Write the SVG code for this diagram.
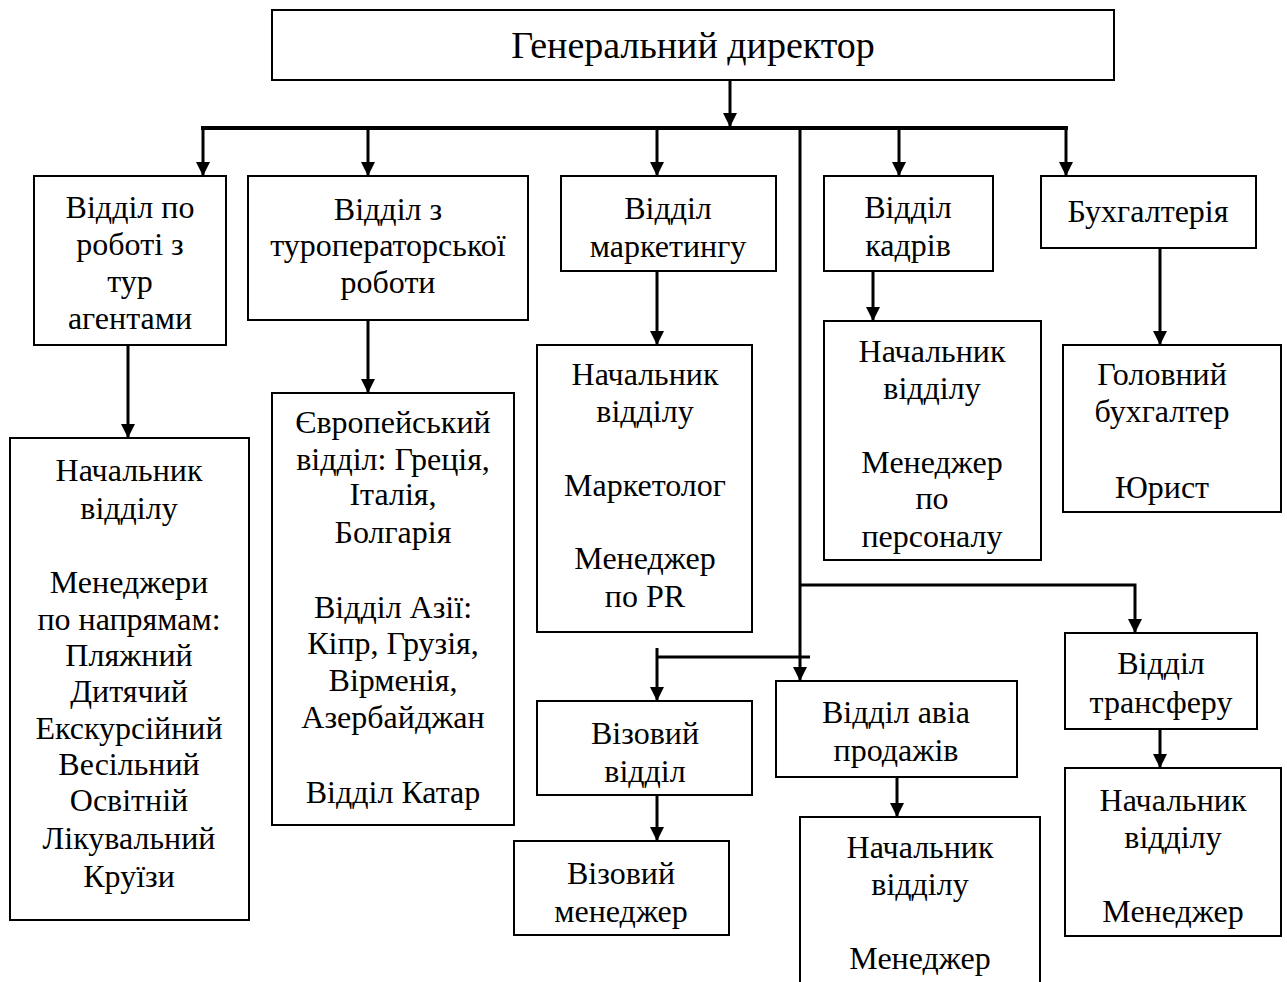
<svg xmlns="http://www.w3.org/2000/svg" width="1287" height="982" viewBox="0 0 1287 982">
<defs>
<style>
.box{fill:#fff;stroke:#000;stroke-width:2}
.t{font-family:"Liberation Serif","Times New Roman",serif;font-size:32px;fill:#000;text-anchor:middle}
.big{font-size:38px}
.c{stroke:#000;stroke-width:3;fill:none}
.bus{stroke:#000;stroke-width:4;fill:none}
</style>
<marker id="ah" viewBox="0 0 10 10" refX="10" refY="5" markerWidth="16" markerHeight="14" markerUnits="userSpaceOnUse" orient="auto">
<path d="M0,0 L10,5 L0,10 z" fill="#000"/>
</marker>
</defs>
<rect width="1287" height="982" fill="#fff"/>
<g id="connectors">
<line class="c" x1="730" y1="80" x2="730" y2="127" marker-end="url(#ah)"/>
<line class="bus" x1="201" y1="128" x2="1068" y2="128"/>
<line class="c" x1="203" y1="128" x2="203" y2="176" marker-end="url(#ah)"/>
<line class="c" x1="368" y1="128" x2="368" y2="176" marker-end="url(#ah)"/>
<line class="c" x1="657" y1="128" x2="657" y2="176" marker-end="url(#ah)"/>
<line class="c" x1="899" y1="128" x2="899" y2="176" marker-end="url(#ah)"/>
<line class="c" x1="1066" y1="128" x2="1066" y2="176" marker-end="url(#ah)"/>
<line class="c" x1="128" y1="345" x2="128" y2="438" marker-end="url(#ah)"/>
<line class="c" x1="368" y1="320" x2="368" y2="393" marker-end="url(#ah)"/>
<line class="c" x1="657" y1="271" x2="657" y2="345" marker-end="url(#ah)"/>
<line class="c" x1="873" y1="271" x2="873" y2="321" marker-end="url(#ah)"/>
<line class="c" x1="1160" y1="248" x2="1160" y2="345" marker-end="url(#ah)"/>
<line class="c" x1="800" y1="128" x2="800" y2="681" marker-end="url(#ah)"/>
<polyline class="c" points="800,585 1135,585 1135,633" marker-end="url(#ah)"/>
<line class="c" x1="657" y1="657" x2="810" y2="657"/>
<line class="c" x1="657" y1="648" x2="657" y2="701" marker-end="url(#ah)"/>
<line class="c" x1="657" y1="795" x2="657" y2="841" marker-end="url(#ah)"/>
<line class="c" x1="897" y1="777" x2="897" y2="817" marker-end="url(#ah)"/>
<line class="c" x1="1160" y1="729" x2="1160" y2="768" marker-end="url(#ah)"/>
</g>
<g id="gd"><rect class="box" x="272" y="10" width="842" height="70"/><text class="t big" x="693" y="58">Генеральний директор</text></g>
<g id="b1"><rect class="box" x="34" y="176" width="192" height="169"/>
<text class="t" x="130" y="218">Відділ по</text><text class="t" x="130" y="255">роботі з</text><text class="t" x="130" y="292">тур</text><text class="t" x="130" y="329">агентами</text></g>
<g id="b2"><rect class="box" x="248" y="176" width="280" height="144"/>
<text class="t" x="388" y="220">Відділ з</text><text class="t" x="388" y="256">туроператорської</text><text class="t" x="388" y="293">роботи</text></g>
<g id="b3"><rect class="box" x="561" y="176" width="215" height="95"/>
<text class="t" x="668" y="219">Відділ</text><text class="t" x="668" y="257">маркетингу</text></g>
<g id="b4"><rect class="box" x="824" y="176" width="169" height="95"/>
<text class="t" x="908" y="218">Відділ</text><text class="t" x="908" y="256">кадрів</text></g>
<g id="b5"><rect class="box" x="1041" y="176" width="215" height="72"/>
<text class="t" x="1148" y="222">Бухгалтерія</text></g>
<g id="c1"><rect class="box" x="10" y="438" width="239" height="482"/>
<text class="t" x="129" y="481">Начальник</text><text class="t" x="129" y="519">відділу</text>
<text class="t" x="129" y="593">Менеджери</text><text class="t" x="129" y="630">по напрямам:</text>
<text class="t" x="129" y="666">Пляжний</text><text class="t" x="129" y="702">Дитячий</text><text class="t" x="129" y="739">Екскурсійний</text>
<text class="t" x="129" y="775">Весільний</text><text class="t" x="129" y="811">Освітній</text><text class="t" x="129" y="849">Лікувальний</text><text class="t" x="129" y="887">Круїзи</text></g>
<g id="c2"><rect class="box" x="272" y="393" width="242" height="432"/>
<text class="t" x="393" y="433">Європейський</text><text class="t" x="393" y="470">відділ: Греція,</text><text class="t" x="393" y="505">Італія,</text><text class="t" x="393" y="543">Болгарія</text>
<text class="t" x="393" y="618">Відділ Азії:</text><text class="t" x="393" y="654">Кіпр, Грузія,</text><text class="t" x="393" y="691">Вірменія,</text><text class="t" x="393" y="728">Азербайджан</text>
<text class="t" x="393" y="803">Відділ Катар</text></g>
<g id="c3"><rect class="box" x="537" y="345" width="215" height="287"/>
<text class="t" x="645" y="385">Начальник</text><text class="t" x="645" y="422">відділу</text>
<text class="t" x="645" y="496">Маркетолог</text>
<text class="t" x="645" y="569">Менеджер</text><text class="t" x="645" y="607">по PR</text></g>
<g id="c4"><rect class="box" x="824" y="321" width="217" height="239"/>
<text class="t" x="932" y="362">Начальник</text><text class="t" x="932" y="399">відділу</text>
<text class="t" x="932" y="473">Менеджер</text><text class="t" x="932" y="509">по</text><text class="t" x="932" y="547">персоналу</text></g>
<g id="c5"><rect class="box" x="1063" y="345" width="218" height="167"/>
<text class="t" x="1162" y="385">Головний</text><text class="t" x="1162" y="422">бухгалтер</text>
<text class="t" x="1162" y="498">Юрист</text></g>
<g id="visa"><rect class="box" x="537" y="701" width="215" height="94"/>
<text class="t" x="645" y="744">Візовий</text><text class="t" x="645" y="782">відділ</text></g>
<g id="visam"><rect class="box" x="514" y="841" width="215" height="94"/>
<text class="t" x="621" y="884">Візовий</text><text class="t" x="621" y="922">менеджер</text></g>
<g id="avia"><rect class="box" x="776" y="681" width="241" height="96"/>
<text class="t" x="896" y="723">Відділ авіа</text><text class="t" x="896" y="761">продажів</text></g>
<g id="aviac"><rect class="box" x="800" y="817" width="240" height="175"/>
<text class="t" x="920" y="858">Начальник</text><text class="t" x="920" y="895">відділу</text>
<text class="t" x="920" y="969">Менеджер</text></g>
<g id="tr"><rect class="box" x="1065" y="633" width="192" height="96"/>
<text class="t" x="1161" y="674">Відділ</text><text class="t" x="1161" y="713">трансферу</text></g>
<g id="trc"><rect class="box" x="1065" y="768" width="216" height="168"/>
<text class="t" x="1173" y="811">Начальник</text><text class="t" x="1173" y="848">відділу</text>
<text class="t" x="1173" y="922">Менеджер</text></g>
</svg>
